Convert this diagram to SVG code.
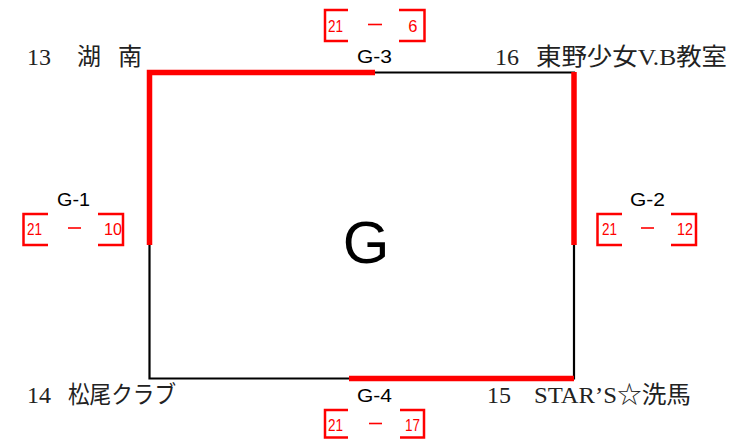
<svg xmlns="http://www.w3.org/2000/svg" width="745" height="440" viewBox="0 0 745 440">
<style>
.name{font-family:"Liberation Serif","Noto Sans CJK JP",serif;font-size:24px;fill:#222}
.glab{font-family:"Liberation Sans",Arial,sans-serif;font-size:18px;fill:#000}
.sc{font-family:"Liberation Sans",Arial,sans-serif;font-size:16.5px;fill:#ff0000}
.dash{stroke:#ff0000;stroke-width:1.6}
.br{fill:none;stroke:#ff0000;stroke-width:2.5}
.thin{fill:none;stroke:#000;stroke-width:2.2}
.win{fill:none;stroke:#ff0000;stroke-width:5.5;stroke-linecap:butt;stroke-linejoin:miter}
</style>
<rect width="745" height="440" fill="#fff"/>
<g id="connectors">
<path class="thin" d="M149.5,72.5 H574 V378.5 H149.5 Z"/>
<path class="win" d="M149.5,245 V72.5 H375"/>
<path class="win" d="M574,72 V245"/>
<path class="win" d="M349,378.5 H574"/>
</g>
<g id="center"><text x="366" y="263" font-family="Liberation Sans,Arial,sans-serif" font-size="60" text-anchor="middle">G</text></g>
<g id="team13"><text class="name" y="65"><tspan x="27">13</tspan><tspan x="77">湖</tspan><tspan x="118">南</tspan></text></g>
<g id="team16"><text class="name" y="65"><tspan x="495">16</tspan><tspan x="536" textLength="191" lengthAdjust="spacingAndGlyphs">東野少女V.B教室</tspan></text></g>
<g id="team14"><text class="name" y="403"><tspan x="27">14</tspan><tspan x="68" textLength="108" lengthAdjust="spacingAndGlyphs">松尾クラブ</tspan></text></g>
<g id="team15"><text class="name" y="403"><tspan x="487">15</tspan><tspan x="534" textLength="157" lengthAdjust="spacingAndGlyphs">STAR’S☆洗馬</tspan></text></g>
<g id="g1">
<text class="glab" x="57" y="206" textLength="33" lengthAdjust="spacingAndGlyphs">G-1</text>
<path class="br" d="M48,214 H23.5 V245 H48 M98,214 H123 V245 H98"/>
<text class="sc" x="27" y="235" textLength="15" lengthAdjust="spacingAndGlyphs">21</text>
<line class="dash" x1="68" y1="228" x2="81" y2="228"/>
<text class="sc" x="122" y="235" text-anchor="end" textLength="18" lengthAdjust="spacingAndGlyphs">10</text>
</g>
<g id="g2">
<text class="glab" x="630" y="206" textLength="35" lengthAdjust="spacingAndGlyphs">G-2</text>
<path class="br" d="M622,214 H597.5 V245 H622 M671,214 H696 V245 H671"/>
<text class="sc" x="602" y="235" textLength="15" lengthAdjust="spacingAndGlyphs">21</text>
<line class="dash" x1="641" y1="228" x2="654" y2="228"/>
<text class="sc" x="693" y="235" text-anchor="end" textLength="16" lengthAdjust="spacingAndGlyphs">12</text>
</g>
<g id="g3">
<text class="glab" x="357" y="63" textLength="35" lengthAdjust="spacingAndGlyphs">G-3</text>
<path class="br" d="M348,10 H325 V41 H348 M399,10 H424.5 V41 H399"/>
<text class="sc" x="328" y="31.5" textLength="15" lengthAdjust="spacingAndGlyphs">21</text>
<line class="dash" x1="368" y1="24.5" x2="382" y2="24.5"/>
<text class="sc" x="417.5" y="31.5" text-anchor="end">6</text>
</g>
<g id="g4">
<text class="glab" x="357" y="402" textLength="35" lengthAdjust="spacingAndGlyphs">G-4</text>
<path class="br" d="M348,410 H325 V437.5 H348 M400,410 H424 V437.5 H400"/>
<text class="sc" x="328" y="431" textLength="15" lengthAdjust="spacingAndGlyphs">21</text>
<line class="dash" x1="369" y1="423.5" x2="382" y2="423.5"/>
<text class="sc" x="420" y="431" text-anchor="end" textLength="15" lengthAdjust="spacingAndGlyphs">17</text>
</g>
</svg>
